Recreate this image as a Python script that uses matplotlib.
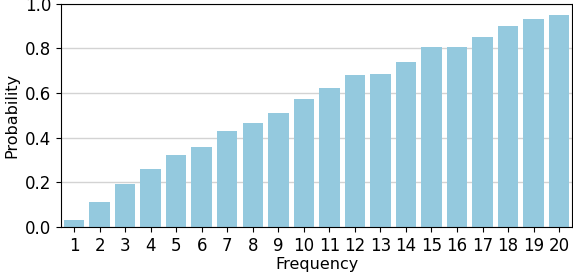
import numpy as np
import pandas as pd
import seaborn as sns
from matplotlib import pyplot as plt

# values
frequency = list(range(1, 21))
probability = [0.03, 0.11, 0.19, 0.26, 0.32, 0.36, 0.43, 0.467, 0.512, 0.575,
               0.624, 0.683, 0.687, 0.741, 0.808, 0.808, 0.853, 0.902, 0.934, 0.952]

df = pd.DataFrame({'Frequency': frequency, 'Probability': probability})

fig = plt.figure(figsize=(5.73, 2.8), dpi=100)
ax = fig.add_axes([0.107, 0.19, 0.891, 0.796])

sns.barplot(data=df, x='Frequency', y='Probability', color='skyblue', ax=ax)

ax.set_ylim(0, 1.0)
ax.set_yticks(np.arange(0, 1.01, 0.2))
ax.yaxis.grid(True, color='lightgray', linewidth=1)
ax.set_axisbelow(True)
ax.tick_params(labelsize=12)
ax.set_xlabel('Frequency', fontsize=11.5, labelpad=2)
ax.set_ylabel('Probability', fontsize=11.5)

fig.savefig('out.png', dpi=100)
